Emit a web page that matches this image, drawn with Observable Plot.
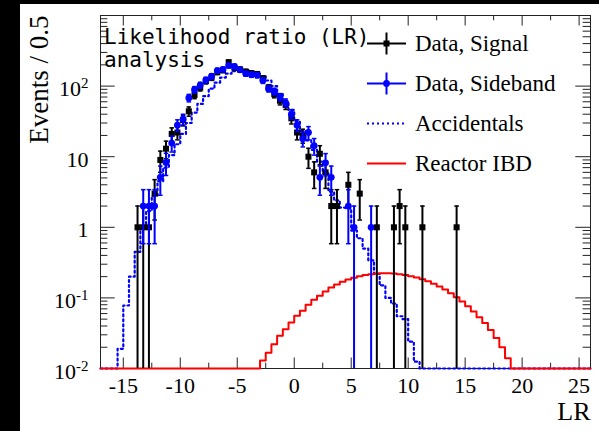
<!DOCTYPE html>
<html>
<head>
<meta charset="utf-8">
<script src="https://cdn.jsdelivr.net/npm/d3@7"></script>
<script src="https://cdn.jsdelivr.net/npm/@observablehq/plot@0.6"></script>
<style>
  html, body { margin: 0; padding: 0; background: #000; width: 599px; height: 431px; overflow: hidden; }
  #panel { position: absolute; left: 20px; top: 4px; width: 579px; height: 427px; background: #fff; }
  #chart { position: absolute; left: 0; top: 0; }
  #title { position: absolute; left: 84px; top: 22px; font-family: "DejaVu Sans Mono", monospace; font-size: 21px; line-height: 23px; color: #000; white-space: nowrap; }
  .legtext { position: absolute; left: 395px; font-family: "Liberation Serif", serif; font-size: 23px; line-height: 26px; color: #000; white-space: nowrap; }
  #legsw { position: absolute; left: 0; top: 0; overflow: visible; }
</style>
</head>
<body>
<div id="panel">
  <div id="chart"></div>
  <svg id="legsw" width="579" height="200"></svg>
  <div id="title">Likelihood ratio (LR)<br>analysis</div>
</div>
<script>
// ---------------- data ----------------
const binWidth = 0.5;

const signalLR = [-13.75,-13.25,-12.75,-12.25,-11.75,-11.25,-10.75,-10.25,-9.75,-9.25,-8.75,-8.25,-7.75,-7.25,-6.75,-6.25,-5.75,-5.25,-4.75,-4.25,-3.75,-3.25,-2.75,-2.25,-1.75,-1.25,-0.75,-0.25,0.25,0.75,1.25,1.75,2.25,2.75,3.25,3.75,4.75,5.75,7.25,8.75,9.25,9.75,11.25,14.25];
const signalEvents = [1,1,1,3,9,13,21,22,33,44,75,95,118,132,158,168,218,182,172,160,152,148,128,95,77,62,54,35,22,20,10,6,11,6,2,2,4,3,1,1,2,1,1,1];

const sidebandLR = [-13.25,-12.75,-12.25,-11.75,-11.25,-10.75,-10.25,-9.75,-9.25,-8.75,-8.25,-7.75,-7.25,-6.75,-6.25,-5.75,-5.25,-4.75,-4.25,-3.75,-3.25,-2.75,-2.25,-1.75,-1.25,-0.75,-0.25,0.25,0.75,1.25,1.75,2.25,2.75,3.25,4.75,5.25,6.75];
const sidebandEvents = [2,2,2,5.1,8.3,15.6,28,34,68,89,103,122,138,166,172,195,190,170,150,145,143,120,92,84,70,58,40,28,18,22,14.3,5.1,8.2,5.1,2,1,1];

// Accidentals histogram: first bin lower edge, then bin contents
const accFirstEdge = -15.5;
const accEvents = [0.019,0.078,0.2,0.45,0.95,1.7,2.8,4.5,7,10.5,15,21,30,42,56,72,92,112,132,150,163,170,168,160,150,137,120,100,77,60,46,32,23,17,12.5,8.5,5.8,3.2,2.4,1.9,1.85,0.9,0.7,0.5,0.34,0.22,0.15,0.1,0.083,0.055,0.05,0.024,0.0125];

// Reactor IBD histogram
const ibdFirstEdge = -3;
const ibdEvents = [0.013,0.0167,0.022,0.029,0.036,0.045,0.056,0.066,0.08,0.094,0.107,0.123,0.14,0.155,0.169,0.182,0.193,0.203,0.211,0.217,0.221,0.223,0.223,0.221,0.217,0.211,0.203,0.194,0.184,0.172,0.159,0.145,0.131,0.116,0.102,0.089,0.076,0.064,0.053,0.044,0.035,0.027,0.02,0.014];

// axes
const xDomain = [-17, 26];
const yDomain = [0.01, 1000];
const xTickValues = [-15,-10,-5,0,5,10,15,20,25];
const xTickLabels = ["-15","-10","-5","0","5","10","15","20","25"];
const xMinorTicks = [-12.5,-7.5,-2.5,2.5,7.5,12.5,17.5,22.5];
const yTickValues = [0.01,0.1,1,10,100];
const yTickLabels = ["10^-2","10^-1","1","10","10^2"];
const yMajorTicks = [0.01,0.1,1,10,100,1000];
const yMinorTicks = [0.01,0.1,1,10,100].flatMap(d => [2,3,4,5,6,7,8,9].map(m => m * d));
const xLabel = "LR";
const yLabel = "Events / 0.5";

const legendLabels = ["Data, Signal","Data, Sideband","Accidentals","Reactor IBD"];
const legendKinds = ["signal","sideband","acc","ibd"];

// ---------------- build ----------------
const SERIF = "Liberation Serif";
const floor = yDomain[0];
function steps(firstEdge, values) {
  const pts = [{x: xDomain[0], y: floor}];
  values.forEach((v, i) => pts.push({x: firstEdge + i * binWidth, y: Math.max(v, floor)}));
  pts.push({x: firstEdge + values.length * binWidth, y: floor});
  pts.push({x: xDomain[1], y: floor});
  return pts;
}
function points(xs, ys) {
  return xs.map((x, i) => {
    const v = ys[i], e = Math.sqrt(v);
    return {x, y: v, lo: Math.max(v - e, floor), hi: v + e, hasLo: v - e > floor};
  });
}
const accSteps = steps(accFirstEdge, accEvents);
const ibdSteps = steps(ibdFirstEdge, ibdEvents);
const sig = points(signalLR, signalEvents);
const side = points(sidebandLR, sidebandEvents);

const W = 579, H = 427, mL = 80, mR = 9, mT = 11, mB = 63;
const plotW = W - mL - mR, plotH = H - mT - mB;
const capHalf = 0.2;
const BLUE = "#0000ff", RED = "#ff0000";
const DASH = "2,3";

function dataMarks(data, color, symbol) {
  return [
    Plot.ruleX(data, {x: "x", y1: "lo", y2: "hi", stroke: color, strokeWidth: 2}),
    Plot.link(data, {x1: d => d.x - capHalf, x2: d => d.x + capHalf, y1: "hi", y2: "hi", stroke: color, strokeWidth: 1.5}),
    Plot.link(data.filter(d => d.hasLo), {x1: d => d.x - capHalf, x2: d => d.x + capHalf, y1: "lo", y2: "lo", stroke: color, strokeWidth: 1.5}),
    Plot.dot(data, {x: "x", y: "y", symbol, r: 3.4, fill: color, stroke: "none"})
  ];
}

const chart = Plot.plot({
  width: W, height: H,
  marginLeft: mL, marginRight: mR, marginTop: mT, marginBottom: mB,
  x: {domain: xDomain, axis: null},
  y: {type: "log", domain: yDomain, axis: null},
  style: {background: "transparent", fontFamily: SERIF, overflow: "visible", color: "#000"},
  marks: [
    Plot.frame({stroke: "#222", strokeWidth: 1}),
    // x ticks bottom / top
    Plot.ruleX(xTickValues, {x: d => d, insetTop: plotH - 10.5, stroke: "#222"}),
    Plot.ruleX(xMinorTicks, {x: d => d, insetTop: plotH - 5.3, stroke: "#222"}),
    Plot.ruleX(xTickValues, {x: d => d, insetBottom: plotH - 10.5, stroke: "#222"}),
    Plot.ruleX(xMinorTicks, {x: d => d, insetBottom: plotH - 5.3, stroke: "#222"}),
    // y ticks left / right
    Plot.ruleY(yMajorTicks, {y: d => d, insetRight: plotW - 14.7, stroke: "#222"}),
    Plot.ruleY(yMinorTicks, {y: d => d, insetRight: plotW - 7.4, stroke: "#222"}),
    Plot.ruleY(yMajorTicks, {y: d => d, insetLeft: plotW - 14.7, stroke: "#222"}),
    Plot.ruleY(yMinorTicks, {y: d => d, insetLeft: plotW - 7.4, stroke: "#222"}),
    // histograms
    Plot.line(accSteps, {x: "x", y: "y", curve: "step-after", stroke: BLUE, strokeWidth: 2.2, strokeDasharray: DASH}),
    Plot.line(ibdSteps, {x: "x", y: "y", curve: "step-after", stroke: RED, strokeWidth: 2}),
    // data points
    ...dataMarks(sig, "#000", "square"),
    ...dataMarks(side, BLUE, "circle"),
    // tick labels
    Plot.text(xTickValues, {x: d => d, text: (d, i) => xTickLabels[i], frameAnchor: "bottom", lineAnchor: "top", dy: 9, fontSize: 22, fontFamily: SERIF, fill: "#000"}),
    Plot.text(yTickValues, {y: d => d, text: (d, i) => yTickLabels[i], frameAnchor: "left", textAnchor: "end", lineAnchor: "middle", dx: -12, dy: 3, fontSize: 22, fontFamily: SERIF, fill: "#000"}),
    // axis titles
    Plot.text([xLabel], {text: d => d, frameAnchor: "bottom-right", textAnchor: "end", lineAnchor: "top", dy: 33, fontSize: 26, fontFamily: SERIF, fill: "#000"}),
    Plot.text([yLabel], {text: d => d, frameAnchor: "top-left", textAnchor: "end", lineAnchor: "middle", rotate: -90, dx: -61, fontSize: 27, fontFamily: SERIF, fill: "#000"})
  ]
});
document.getElementById("chart").append(chart);

// superscripts for y tick labels
chart.querySelectorAll("text").forEach(t => {
  const s = t.textContent;
  if (s.includes("^")) {
    const [base, exp] = s.split("^");
    t.textContent = base;
    const ts = document.createElementNS("http://www.w3.org/2000/svg", "tspan");
    ts.setAttribute("dy", "-8");
    ts.setAttribute("font-size", "15");
    ts.textContent = exp;
    t.appendChild(ts);
  }
});

// ---------------- legend ----------------
const lg = d3.select("#legsw");
const swX0 = 347, swX1 = 386, swC = (swX0 + swX1) / 2;
legendLabels.forEach((label, i) => {
  const base = 48 + 40 * i;
  const cy = base - 8.5;
  const kind = legendKinds[i];
  const color = kind === "signal" ? "#000" : kind === "ibd" ? RED : BLUE;
  const line = lg.append("line").attr("x1", swX0).attr("x2", swX1).attr("y1", cy).attr("y2", cy)
    .attr("stroke", color).attr("stroke-width", kind === "acc" ? 2.2 : 2);
  if (kind === "acc") line.attr("stroke-dasharray", DASH);
  if (kind === "signal" || kind === "sideband") {
    lg.append("line").attr("x1", swC).attr("x2", swC).attr("y1", cy - 11).attr("y2", cy + 11)
      .attr("stroke", color).attr("stroke-width", 2);
    if (kind === "signal") lg.append("rect").attr("x", swC - 3).attr("y", cy - 3).attr("width", 6).attr("height", 6).attr("fill", color);
    else lg.append("circle").attr("cx", swC).attr("cy", cy).attr("r", 3.4).attr("fill", color);
  }
  const div = document.createElement("div");
  div.className = "legtext";
  div.style.top = (base - 20.7) + "px";
  div.textContent = label;
  document.getElementById("panel").appendChild(div);
});
</script>
</body>
</html>
